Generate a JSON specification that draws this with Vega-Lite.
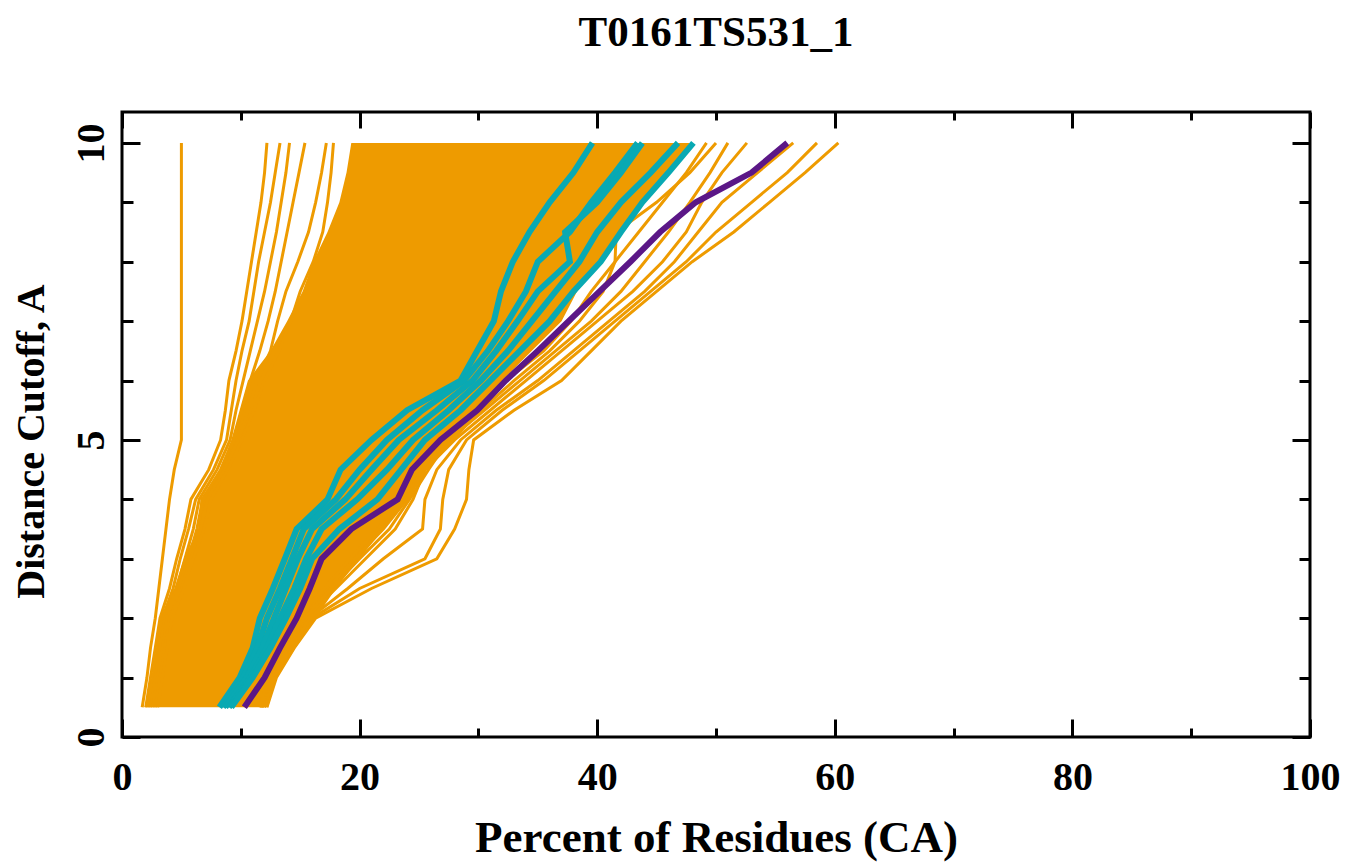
{
"$schema": "https://vega.github.io/schema/vega-lite/v6.json",
"width": 1188, "height": 625,
"autosize": {"type": "none"},
"padding": {"left": 122, "top": 112, "right": 36, "bottom": 127},
"background": "white",
"title": {"text": "T0161TS531_1", "font": "Liberation Serif", "fontSize": 43, "fontWeight": "bold", "color": "black", "offset": 22, "baseline": "alphabetic", "anchor": "middle"},
"config": {
  "view": {"stroke": "black", "strokeWidth": 3},
  "axis": {"domain": false, "grid": false, "labelFont": "Liberation Serif", "labelFontSize": 40, "labelFontWeight": "bold", "labelColor": "black", "titleFont": "Liberation Serif", "titleFontSize": 42, "titleFontWeight": "bold", "titleColor": "black", "tickColor": "black", "tickWidth": 3, "zindex": 1, "labelFlush": false, "labelOverlap": false}
},
"resolve": {"axis": {"x": "independent", "y": "independent"}},
"datasets": {
"band": [
{"d":0.5,"lo":1.9,"hi":12.3},{"d":1,"lo":2.5,"hi":13.0},{"d":1.5,"lo":2.9,"hi":14.6},{"d":2,"lo":3.2,"hi":16.3},{"d":2.5,"lo":4.4,"hi":18.0},{"d":3,"lo":5.2,"hi":20.0},{"d":3.5,"lo":6.4,"hi":22.0},{"d":4,"lo":6.6,"hi":24.0},{"d":4.5,"lo":8.2,"hi":25.5},{"d":5,"lo":9.2,"hi":28.0},{"d":5.5,"lo":9.9,"hi":30.0},{"d":6,"lo":10.6,"hi":32.0},{"d":6.5,"lo":12.5,"hi":34.5},{"d":7,"lo":13.9,"hi":37.0},{"d":7.5,"lo":15.2,"hi":38.3},{"d":8,"lo":16.1,"hi":40.2},{"d":8.5,"lo":17.3,"hi":42.0},{"d":9,"lo":18.3,"hi":44.0},{"d":9.5,"lo":18.9,"hi":46.0},{"d":10,"lo":19.3,"hi":47.8}
],
"left": [
{"m":"L1","d":0.5,"p":1.7},{"m":"L1","d":1,"p":2.1},{"m":"L1","d":1.5,"p":2.4},{"m":"L1","d":2,"p":2.8},{"m":"L1","d":2.5,"p":3.1},{"m":"L1","d":3,"p":3.4},{"m":"L1","d":3.5,"p":3.7},{"m":"L1","d":4,"p":4.0},{"m":"L1","d":4.5,"p":4.4},{"m":"L1","d":5,"p":5.0},{"m":"L1","d":5.5,"p":5.0},{"m":"L1","d":6,"p":5.0},{"m":"L1","d":6.5,"p":5.0},{"m":"L1","d":7,"p":5.0},{"m":"L1","d":7.5,"p":5.0},{"m":"L1","d":8,"p":5.0},{"m":"L1","d":8.5,"p":5.0},{"m":"L1","d":9,"p":5.0},{"m":"L1","d":9.5,"p":5.0},{"m":"L1","d":10,"p":5.0},
{"m":"L2","d":0.5,"p":2.0},{"m":"L2","d":1,"p":2.4},{"m":"L2","d":1.5,"p":2.8},{"m":"L2","d":2,"p":3.2},{"m":"L2","d":2.5,"p":4.0},{"m":"L2","d":3,"p":4.6},{"m":"L2","d":3.5,"p":5.3},{"m":"L2","d":4,"p":5.8},{"m":"L2","d":4.5,"p":7.3},{"m":"L2","d":5,"p":8.3},{"m":"L2","d":5.5,"p":8.7},{"m":"L2","d":6,"p":9.0},{"m":"L2","d":6.5,"p":9.6},{"m":"L2","d":7,"p":10.1},{"m":"L2","d":7.5,"p":10.5},{"m":"L2","d":8,"p":10.9},{"m":"L2","d":8.5,"p":11.3},{"m":"L2","d":9,"p":11.7},{"m":"L2","d":9.5,"p":12.0},{"m":"L2","d":10,"p":12.2},
{"m":"L3","d":0.5,"p":2.2},{"m":"L3","d":1,"p":2.6},{"m":"L3","d":1.5,"p":3.0},{"m":"L3","d":2,"p":3.4},{"m":"L3","d":2.5,"p":4.3},{"m":"L3","d":3,"p":4.9},{"m":"L3","d":3.5,"p":5.6},{"m":"L3","d":4,"p":6.2},{"m":"L3","d":4.5,"p":7.7},{"m":"L3","d":5,"p":8.8},{"m":"L3","d":5.5,"p":9.2},{"m":"L3","d":6,"p":9.6},{"m":"L3","d":6.5,"p":10.1},{"m":"L3","d":7,"p":10.7},{"m":"L3","d":7.5,"p":11.1},{"m":"L3","d":8,"p":11.5},{"m":"L3","d":8.5,"p":12.0},{"m":"L3","d":9,"p":12.5},{"m":"L3","d":9.5,"p":12.9},{"m":"L3","d":10,"p":13.3},
{"m":"L4","d":0.5,"p":2.4},{"m":"L4","d":1,"p":2.8},{"m":"L4","d":1.5,"p":3.2},{"m":"L4","d":2,"p":3.6},{"m":"L4","d":2.5,"p":4.6},{"m":"L4","d":3,"p":5.3},{"m":"L4","d":3.5,"p":6.0},{"m":"L4","d":4,"p":6.5},{"m":"L4","d":4.5,"p":8.0},{"m":"L4","d":5,"p":9.1},{"m":"L4","d":5.5,"p":9.6},{"m":"L4","d":6,"p":10.2},{"m":"L4","d":6.5,"p":10.8},{"m":"L4","d":7,"p":11.4},{"m":"L4","d":7.5,"p":12.0},{"m":"L4","d":8,"p":12.5},{"m":"L4","d":8.5,"p":13.0},{"m":"L4","d":9,"p":13.4},{"m":"L4","d":9.5,"p":13.8},{"m":"L4","d":10,"p":14.1},
{"m":"L5","d":0.5,"p":2.6},{"m":"L5","d":1,"p":3.0},{"m":"L5","d":1.5,"p":3.4},{"m":"L5","d":2,"p":3.8},{"m":"L5","d":2.5,"p":4.8},{"m":"L5","d":3,"p":5.6},{"m":"L5","d":3.5,"p":6.3},{"m":"L5","d":4,"p":6.8},{"m":"L5","d":4.5,"p":8.3},{"m":"L5","d":5,"p":9.4},{"m":"L5","d":5.5,"p":10.1},{"m":"L5","d":6,"p":10.8},{"m":"L5","d":6.5,"p":11.6},{"m":"L5","d":7,"p":12.3},{"m":"L5","d":7.5,"p":12.9},{"m":"L5","d":8,"p":13.4},{"m":"L5","d":8.5,"p":13.9},{"m":"L5","d":9,"p":14.4},{"m":"L5","d":9.5,"p":14.9},{"m":"L5","d":10,"p":15.4},
{"m":"L6","d":0.5,"p":2.8},{"m":"L6","d":1,"p":3.2},{"m":"L6","d":1.5,"p":3.6},{"m":"L6","d":2,"p":4.0},{"m":"L6","d":2.5,"p":5.0},{"m":"L6","d":3,"p":5.8},{"m":"L6","d":3.5,"p":6.6},{"m":"L6","d":4,"p":7.2},{"m":"L6","d":4.5,"p":8.6},{"m":"L6","d":5,"p":9.8},{"m":"L6","d":5.5,"p":10.6},{"m":"L6","d":6,"p":11.4},{"m":"L6","d":6.5,"p":12.5},{"m":"L6","d":7,"p":13.1},{"m":"L6","d":7.5,"p":13.8},{"m":"L6","d":8,"p":14.8},{"m":"L6","d":8.5,"p":15.7},{"m":"L6","d":9,"p":16.3},{"m":"L6","d":9.5,"p":16.8},{"m":"L6","d":10,"p":17.2},
{"m":"L7","d":0.5,"p":3.0},{"m":"L7","d":1,"p":3.4},{"m":"L7","d":1.5,"p":3.8},{"m":"L7","d":2,"p":4.2},{"m":"L7","d":2.5,"p":5.2},{"m":"L7","d":3,"p":6.0},{"m":"L7","d":3.5,"p":6.9},{"m":"L7","d":4,"p":7.5},{"m":"L7","d":4.5,"p":8.9},{"m":"L7","d":5,"p":10.1},{"m":"L7","d":5.5,"p":11.1},{"m":"L7","d":6,"p":12.0},{"m":"L7","d":6.5,"p":13.2},{"m":"L7","d":7,"p":14.2},{"m":"L7","d":7.5,"p":15.0},{"m":"L7","d":8,"p":16.1},{"m":"L7","d":8.5,"p":16.9},{"m":"L7","d":9,"p":17.3},{"m":"L7","d":9.5,"p":17.6},{"m":"L7","d":10,"p":17.8}
],
"right": [
{"m":"R1","d":0.5,"p":12.2},{"m":"R1","d":1,"p":13.0},{"m":"R1","d":1.5,"p":14.5},{"m":"R1","d":2,"p":16.3},{"m":"R1","d":2.5,"p":21.0},{"m":"R1","d":3,"p":26.5},{"m":"R1","d":3.5,"p":28.0},{"m":"R1","d":4,"p":29.0},{"m":"R1","d":4.5,"p":29.2},{"m":"R1","d":5,"p":29.6},{"m":"R1","d":5.5,"p":33.0},{"m":"R1","d":6,"p":37.0},{"m":"R1","d":6.5,"p":39.5},{"m":"R1","d":7,"p":42.0},{"m":"R1","d":7.5,"p":45.0},{"m":"R1","d":8,"p":48.0},{"m":"R1","d":8.5,"p":51.5},{"m":"R1","d":9,"p":54.5},{"m":"R1","d":9.5,"p":57.5},{"m":"R1","d":10,"p":60.3},
{"m":"R2","d":0.5,"p":12.0},{"m":"R2","d":1,"p":12.8},{"m":"R2","d":1.5,"p":14.3},{"m":"R2","d":2,"p":16.0},{"m":"R2","d":2.5,"p":20.0},{"m":"R2","d":3,"p":25.5},{"m":"R2","d":3.5,"p":26.8},{"m":"R2","d":4,"p":27.0},{"m":"R2","d":4.5,"p":27.5},{"m":"R2","d":5,"p":29.0},{"m":"R2","d":5.5,"p":32.0},{"m":"R2","d":6,"p":35.5},{"m":"R2","d":6.5,"p":38.5},{"m":"R2","d":7,"p":41.5},{"m":"R2","d":7.5,"p":44.5},{"m":"R2","d":8,"p":47.5},{"m":"R2","d":8.5,"p":50.0},{"m":"R2","d":9,"p":53.0},{"m":"R2","d":9.5,"p":56.0},{"m":"R2","d":10,"p":58.5},
{"m":"R3","d":0.5,"p":12.0},{"m":"R3","d":1,"p":12.8},{"m":"R3","d":1.5,"p":14.2},{"m":"R3","d":2,"p":15.8},{"m":"R3","d":2.5,"p":19.0},{"m":"R3","d":3,"p":22.0},{"m":"R3","d":3.5,"p":25.3},{"m":"R3","d":4,"p":25.5},{"m":"R3","d":4.5,"p":26.5},{"m":"R3","d":5,"p":28.5},{"m":"R3","d":5.5,"p":31.5},{"m":"R3","d":6,"p":35.0},{"m":"R3","d":6.5,"p":38.0},{"m":"R3","d":7,"p":41.0},{"m":"R3","d":7.5,"p":44.0},{"m":"R3","d":8,"p":46.5},{"m":"R3","d":8.5,"p":48.5},{"m":"R3","d":9,"p":50.5},{"m":"R3","d":9.5,"p":53.5},{"m":"R3","d":10,"p":56.5},
{"m":"R4","d":0.5,"p":11.8},{"m":"R4","d":1,"p":12.6},{"m":"R4","d":1.5,"p":14.0},{"m":"R4","d":2,"p":15.5},{"m":"R4","d":2.5,"p":18.0},{"m":"R4","d":3,"p":20.5},{"m":"R4","d":3.5,"p":23.0},{"m":"R4","d":4,"p":24.5},{"m":"R4","d":4.5,"p":25.5},{"m":"R4","d":5,"p":28.0},{"m":"R4","d":5.5,"p":31.0},{"m":"R4","d":6,"p":34.0},{"m":"R4","d":6.5,"p":37.0},{"m":"R4","d":7,"p":40.0},{"m":"R4","d":7.5,"p":43.0},{"m":"R4","d":8,"p":45.5},{"m":"R4","d":8.5,"p":47.5},{"m":"R4","d":9,"p":48.8},{"m":"R4","d":9.5,"p":50.5},{"m":"R4","d":10,"p":52.6},
{"m":"R5","d":0.5,"p":11.8},{"m":"R5","d":1,"p":12.5},{"m":"R5","d":1.5,"p":13.8},{"m":"R5","d":2,"p":15.3},{"m":"R5","d":2.5,"p":17.6},{"m":"R5","d":3,"p":20.0},{"m":"R5","d":3.5,"p":22.5},{"m":"R5","d":4,"p":24.2},{"m":"R5","d":4.5,"p":25.8},{"m":"R5","d":5,"p":27.5},{"m":"R5","d":5.5,"p":30.5},{"m":"R5","d":6,"p":33.5},{"m":"R5","d":6.5,"p":36.5},{"m":"R5","d":7,"p":39.5},{"m":"R5","d":7.5,"p":42.0},{"m":"R5","d":8,"p":44.0},{"m":"R5","d":8.5,"p":46.0},{"m":"R5","d":9,"p":47.8},{"m":"R5","d":9.5,"p":49.5},{"m":"R5","d":10,"p":51.0},
{"m":"R6","d":0.5,"p":11.7},{"m":"R6","d":1,"p":12.4},{"m":"R6","d":1.5,"p":13.6},{"m":"R6","d":2,"p":15.0},{"m":"R6","d":2.5,"p":17.2},{"m":"R6","d":3,"p":19.6},{"m":"R6","d":3.5,"p":22.0},{"m":"R6","d":4,"p":24.0},{"m":"R6","d":4.5,"p":25.5},{"m":"R6","d":5,"p":27.8},{"m":"R6","d":5.5,"p":30.2},{"m":"R6","d":6,"p":33.0},{"m":"R6","d":6.5,"p":36.0},{"m":"R6","d":7,"p":38.5},{"m":"R6","d":7.5,"p":40.5},{"m":"R6","d":8,"p":41.5},{"m":"R6","d":8.5,"p":41.6},{"m":"R6","d":9,"p":45.0},{"m":"R6","d":9.5,"p":47.8},{"m":"R6","d":10,"p":50.0},
{"m":"R7","d":0.5,"p":11.6},{"m":"R7","d":1,"p":12.3},{"m":"R7","d":1.5,"p":13.5},{"m":"R7","d":2,"p":14.8},{"m":"R7","d":2.5,"p":17.0},{"m":"R7","d":3,"p":19.2},{"m":"R7","d":3.5,"p":21.5},{"m":"R7","d":4,"p":23.5},{"m":"R7","d":4.5,"p":25.0},{"m":"R7","d":5,"p":27.2},{"m":"R7","d":5.5,"p":29.8},{"m":"R7","d":6,"p":32.3},{"m":"R7","d":6.5,"p":35.5},{"m":"R7","d":7,"p":37.8},{"m":"R7","d":7.5,"p":39.5},{"m":"R7","d":8,"p":41.5},{"m":"R7","d":8.5,"p":43.5},{"m":"R7","d":9,"p":45.5},{"m":"R7","d":9.5,"p":47.5},{"m":"R7","d":10,"p":49.2}
],
"cyan": [
{"m":"C1","d":0.5,"p":8.2},{"m":"C1","d":1,"p":9.9},{"m":"C1","d":1.5,"p":11.0},{"m":"C1","d":2,"p":11.6},{"m":"C1","d":2.5,"p":12.7},{"m":"C1","d":3,"p":13.7},{"m":"C1","d":3.5,"p":14.7},{"m":"C1","d":4,"p":17.3},{"m":"C1","d":4.5,"p":18.4},{"m":"C1","d":5,"p":21.0},{"m":"C1","d":5.5,"p":24.0},{"m":"C1","d":6,"p":28.5},{"m":"C1","d":6.5,"p":29.9},{"m":"C1","d":7,"p":31.3},{"m":"C1","d":7.5,"p":31.9},{"m":"C1","d":8,"p":32.9},{"m":"C1","d":8.5,"p":34.3},{"m":"C1","d":9,"p":36.0},{"m":"C1","d":9.5,"p":38.0},{"m":"C1","d":10,"p":39.6},
{"m":"C2","d":0.5,"p":8.5},{"m":"C2","d":1,"p":10.2},{"m":"C2","d":1.5,"p":11.4},{"m":"C2","d":2,"p":12.2},{"m":"C2","d":2.5,"p":13.3},{"m":"C2","d":3,"p":14.3},{"m":"C2","d":3.5,"p":15.3},{"m":"C2","d":4,"p":18.0},{"m":"C2","d":4.5,"p":20.0},{"m":"C2","d":5,"p":22.3},{"m":"C2","d":5.5,"p":25.3},{"m":"C2","d":6,"p":28.8},{"m":"C2","d":6.5,"p":30.8},{"m":"C2","d":7,"p":32.5},{"m":"C2","d":7.5,"p":34.0},{"m":"C2","d":8,"p":35.0},{"m":"C2","d":8.5,"p":37.7},{"m":"C2","d":9,"p":39.5},{"m":"C2","d":9.5,"p":41.5},{"m":"C2","d":10,"p":43.4},
{"m":"C3","d":0.5,"p":8.7},{"m":"C3","d":1,"p":10.5},{"m":"C3","d":1.5,"p":11.8},{"m":"C3","d":2,"p":12.8},{"m":"C3","d":2.5,"p":13.8},{"m":"C3","d":3,"p":14.8},{"m":"C3","d":3.5,"p":16.0},{"m":"C3","d":4,"p":18.8},{"m":"C3","d":4.5,"p":21.0},{"m":"C3","d":5,"p":23.3},{"m":"C3","d":5.5,"p":26.5},{"m":"C3","d":6,"p":29.5},{"m":"C3","d":6.5,"p":31.5},{"m":"C3","d":7,"p":33.3},{"m":"C3","d":7.5,"p":35.0},{"m":"C3","d":8,"p":37.7},{"m":"C3","d":8.5,"p":37.3},{"m":"C3","d":9,"p":40.0},{"m":"C3","d":9.5,"p":42.0},{"m":"C3","d":10,"p":43.8},
{"m":"C4","d":0.5,"p":9.0},{"m":"C4","d":1,"p":10.8},{"m":"C4","d":1.5,"p":12.2},{"m":"C4","d":2,"p":13.3},{"m":"C4","d":2.5,"p":14.5},{"m":"C4","d":3,"p":15.5},{"m":"C4","d":3.5,"p":16.8},{"m":"C4","d":4,"p":19.8},{"m":"C4","d":4.5,"p":22.3},{"m":"C4","d":5,"p":24.5},{"m":"C4","d":5.5,"p":27.5},{"m":"C4","d":6,"p":30.2},{"m":"C4","d":6.5,"p":32.5},{"m":"C4","d":7,"p":34.5},{"m":"C4","d":7.5,"p":36.5},{"m":"C4","d":8,"p":38.5},{"m":"C4","d":8.5,"p":40.0},{"m":"C4","d":9,"p":42.0},{"m":"C4","d":9.5,"p":44.5},{"m":"C4","d":10,"p":46.8},
{"m":"C5","d":0.5,"p":9.2},{"m":"C5","d":1,"p":11.0},{"m":"C5","d":1.5,"p":12.5},{"m":"C5","d":2,"p":13.8},{"m":"C5","d":2.5,"p":15.0},{"m":"C5","d":3,"p":16.0},{"m":"C5","d":3.5,"p":18.3},{"m":"C5","d":4,"p":21.5},{"m":"C5","d":4.5,"p":23.5},{"m":"C5","d":5,"p":25.5},{"m":"C5","d":5.5,"p":28.5},{"m":"C5","d":6,"p":31.0},{"m":"C5","d":6.5,"p":33.5},{"m":"C5","d":7,"p":36.0},{"m":"C5","d":7.5,"p":38.0},{"m":"C5","d":8,"p":40.3},{"m":"C5","d":8.5,"p":42.0},{"m":"C5","d":9,"p":43.8},{"m":"C5","d":9.5,"p":46.0},{"m":"C5","d":10,"p":48.1}
],
"purple": [
{"m":"P","d":0.5,"p":10.3},{"m":"P","d":1,"p":12.0},{"m":"P","d":1.5,"p":13.3},{"m":"P","d":2,"p":14.7},{"m":"P","d":2.5,"p":15.8},{"m":"P","d":3,"p":16.8},{"m":"P","d":3.5,"p":19.3},{"m":"P","d":4,"p":23.2},{"m":"P","d":4.5,"p":24.4},{"m":"P","d":5,"p":26.8},{"m":"P","d":5.5,"p":29.9},{"m":"P","d":6,"p":32.3},{"m":"P","d":6.5,"p":35.0},{"m":"P","d":7,"p":37.6},{"m":"P","d":7.5,"p":40.2},{"m":"P","d":8,"p":42.8},{"m":"P","d":8.5,"p":45.3},{"m":"P","d":9,"p":48.3},{"m":"P","d":9.5,"p":53.0},{"m":"P","d":10,"p":56.0}
]
},
"layer": [
{
  "data": {"name": "band"},
  "mark": {"type": "area", "color": "#ee9b00", "opacity": 1},
  "encoding": {
    "y": {"field": "d", "type": "quantitative", "scale": {"domain": [0, 10.52], "nice": false, "zero": false},
          "axis": {"orient": "left", "values": [0, 5, 10], "ticks": false, "labelAngle": -90, "labelAlign": "center", "labelBaseline": "alphabetic", "labelPadding": 19, "title": "Distance Cutoff, A", "titleFontSize": 40, "titlePadding": 20, "titleY": 329}},
    "x": {"field": "lo", "type": "quantitative", "stack": null, "scale": {"domain": [0, 100], "nice": false, "zero": false},
          "axis": {"orient": "bottom", "values": [0, 20, 40, 60, 80, 100], "ticks": false, "labelPadding": 20, "title": "Percent of Residues (CA)", "titleFontSize": 45, "titlePadding": 18}},
    "x2": {"field": "hi"}
  }
},
{
  "data": {"name": "left"},
  "mark": {"type": "line", "color": "#ee9b00", "strokeWidth": 3},
  "encoding": {
    "y": {"field": "d", "type": "quantitative", "scale": {"domain": [0, 10.52], "nice": false, "zero": false},
          "axis": {"orient": "left", "values": [0, 5, 10], "labels": false, "tickSize": -18, "title": null}},
    "x": {"field": "p", "type": "quantitative", "scale": {"domain": [0, 100], "nice": false, "zero": false},
          "axis": {"orient": "bottom", "values": [0, 20, 40, 60, 80, 100], "labels": false, "tickSize": -18, "title": null}},
    "detail": {"field": "m"},
    "order": {"field": "d"}
  }
},
{
  "data": {"name": "right"},
  "mark": {"type": "line", "color": "#ee9b00", "strokeWidth": 3},
  "encoding": {
    "y": {"field": "d", "type": "quantitative", "scale": {"domain": [0, 10.52], "nice": false, "zero": false},
          "axis": {"orient": "left", "values": [1, 2, 3, 4, 6, 7, 8, 9], "labels": false, "tickSize": -11, "title": null}},
    "x": {"field": "p", "type": "quantitative", "scale": {"domain": [0, 100], "nice": false, "zero": false},
          "axis": {"orient": "bottom", "values": [10, 30, 50, 70, 90], "labels": false, "tickSize": -9, "title": null}},
    "detail": {"field": "m"},
    "order": {"field": "d"}
  }
},
{
  "data": {"name": "cyan"},
  "mark": {"type": "line", "color": "#09a9b3", "strokeWidth": 6},
  "encoding": {
    "y": {"field": "d", "type": "quantitative", "scale": {"domain": [0, 10.52], "nice": false, "zero": false},
          "axis": {"orient": "right", "values": [0, 5, 10], "labels": false, "tickSize": -18, "title": null}},
    "x": {"field": "p", "type": "quantitative", "scale": {"domain": [0, 100], "nice": false, "zero": false},
          "axis": {"orient": "top", "values": [0, 20, 40, 60, 80, 100], "labels": false, "tickSize": -16, "title": null}},
    "detail": {"field": "m"},
    "order": {"field": "d"}
  }
},
{
  "data": {"name": "purple"},
  "mark": {"type": "line", "color": "#5b1787", "strokeWidth": 6},
  "encoding": {
    "y": {"field": "d", "type": "quantitative", "scale": {"domain": [0, 10.52], "nice": false, "zero": false},
          "axis": {"orient": "right", "values": [1, 2, 3, 4, 6, 7, 8, 9], "labels": false, "tickSize": -11, "title": null}},
    "x": {"field": "p", "type": "quantitative", "scale": {"domain": [0, 100], "nice": false, "zero": false},
          "axis": {"orient": "top", "values": [10, 30, 50, 70, 90], "labels": false, "tickSize": -8, "title": null}},
    "detail": {"field": "m"},
    "order": {"field": "d"}
  }
}
]
}
